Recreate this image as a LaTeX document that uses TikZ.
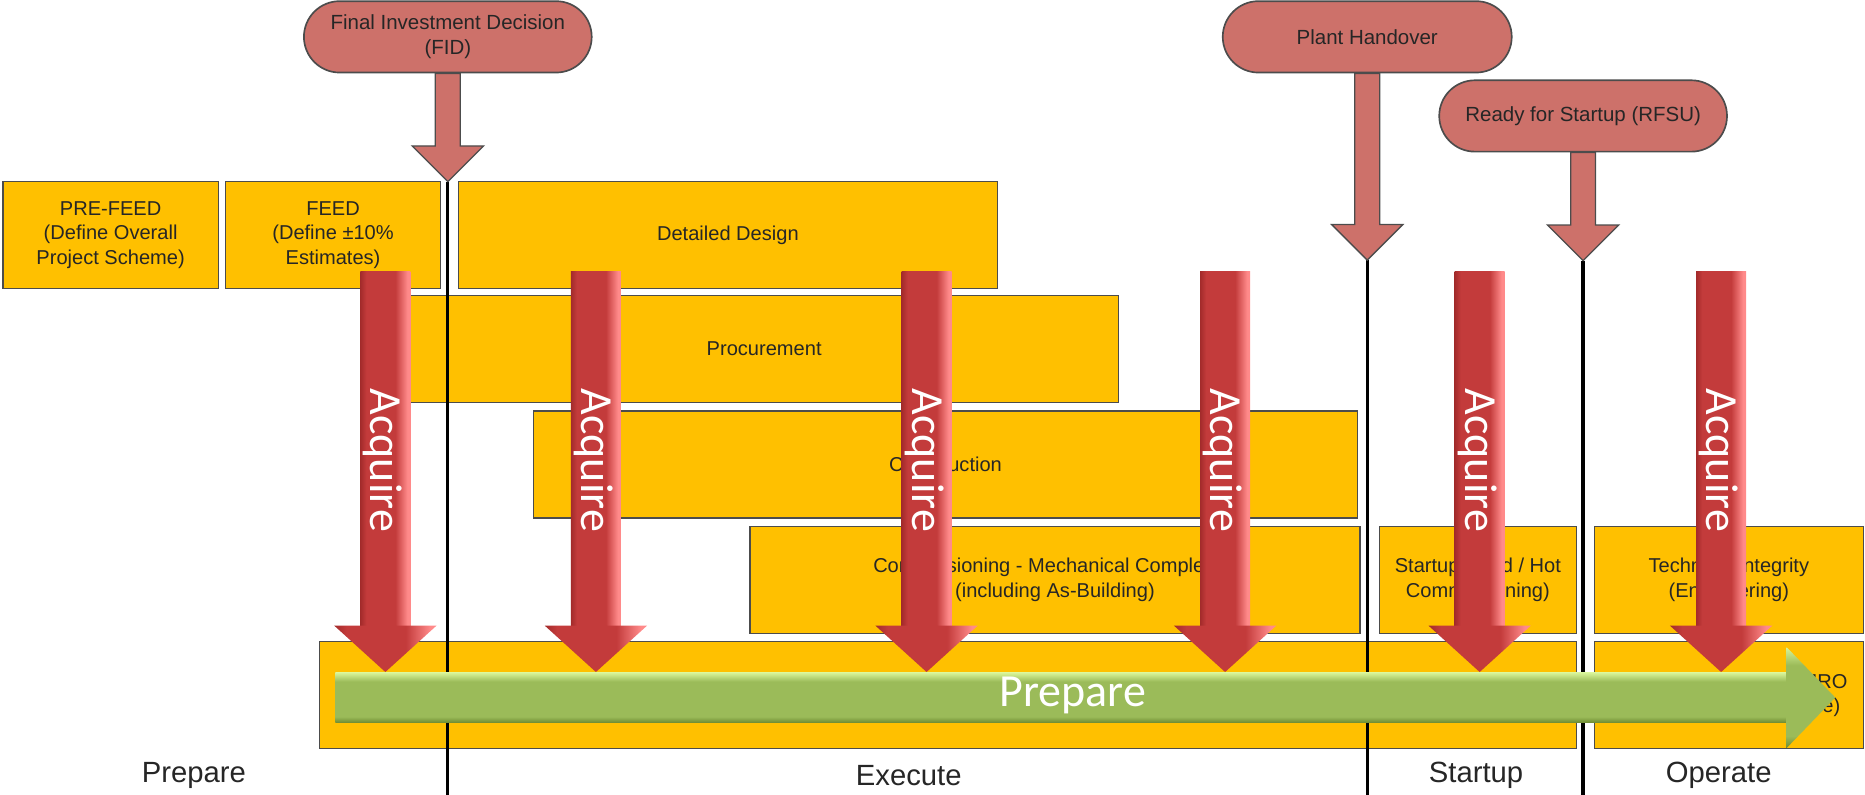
\documentclass[tikz,border=0pt]{standalone}
\usepackage{fontspec}
\setmainfont{Liberation Sans}
\newfontfamily\calfont{Carlito}
\usetikzlibrary{calc,positioning}
\definecolor{boxyellow}{HTML}{FFC000}
\definecolor{pillred}{HTML}{CD716A}
\definecolor{acqdark}{HTML}{A32B2B}
\definecolor{acqred}{HTML}{C33B3B}
\definecolor{acqlight}{HTML}{FF8A8A}
\definecolor{prepdark}{HTML}{6E8C32}
\definecolor{prepgreen}{HTML}{9BBB59}
\definecolor{preplight}{HTML}{D9F59A}
\pgfdeclarehorizontalshading{acqshade}{100bp}{color(0bp)=(acqdark); color(25bp)=(acqdark); color(31bp)=(acqred); color(60bp)=(acqred); color(72bp)=(acqlight); color(100bp)=(acqlight)}
\pgfdeclareverticalshading{prepshade}{100bp}{color(0bp)=(prepdark); color(25bp)=(prepdark); color(31bp)=(prepgreen); color(66bp)=(prepgreen); color(75bp)=(preplight); color(100bp)=(preplight)}

\begin{document}
\begin{tikzpicture}[x=0.02cm,y=-0.02cm,
  phasebox/.style={draw=black!70,line width=0.6pt,fill=boxyellow,anchor=north west,minimum height=1.8cm,inner sep=0pt,align=center,text=black!85,font=\fontsize{9.6}{11.7}\selectfont},
  pill/.style={draw=black!70,line width=0.8pt,fill=pillred,rounded corners=0.6cm,minimum height=1.2cm,align=center,text=black!85,font=\fontsize{9.8}{11.7}\selectfont},
  milestone/.style={draw=black!70,line width=0.6pt,fill=pillred},
  phaseline/.style={line width=1.6pt},
  phaselabel/.style={text=black!85,font=\fontsize{14}{16}\selectfont},
  arrowtext/.style={text=white,font=\calfont\fontsize{22}{24}\selectfont}]
\useasboundingbox (0,0) rectangle (1568,668);
\coordinate (base) at (0,668);
%% phase boxes
\node[phasebox,minimum width=3.62cm] (prefeed) at (2,152) {PRE-FEED\\(Define Overall\\Project Scheme)};
\node[phasebox,minimum width=3.62cm] (feed) at (189,152) {FEED\\(Define \textpm10\%\\Estimates)};
\node[phasebox,minimum width=9.06cm] (design) at (385,152) {Detailed Design};
\node[phasebox,minimum width=11.92cm] (procure) at (344,248) {Procurement};
\node[phasebox,minimum width=13.86cm] (construct) at (448,345) {Construction};
\node[phasebox,minimum width=10.26cm] (commission) at (630,442) {Commissioning - Mechanical Completion\\(including As-Building)};
\node[phasebox,minimum width=3.32cm] (startup) at (1159,442) {Startup (Cold / Hot\\Commissioning)};
\node[phasebox,minimum width=4.52cm] (integrity) at (1340,442) {Technical Integrity\\(Engineering)};
\node[phasebox,minimum width=21.14cm] (execbar) at (268,539) {};
\node[phasebox,minimum width=4.52cm] (operbar) at (1340,539) {Operate \& Maintain - MRO\\(Operations and Service)};
%% milestones
\node[pill,minimum width=4.84cm] (fid) at (376.5,31) {Final Investment Decision\\(FID)};
\node[pill,minimum width=4.86cm] (handover) at (1149.5,31) {Plant Handover};
\node[pill,minimum width=4.84cm] (rfsu) at (1331,97.5) {Ready for Startup (RFSU)};
\foreach \n/\l in {fid/61,handover/127,rfsu/61}{
  \draw[phaseline] ($(\n.south)+(0,\l)+(0,30)$) -- (\n.south |- base);
  \filldraw[milestone] ($(\n.south)+(-10.5,0)$) -- ++(0,\l) -- ++(-19.5,0) -- ++(30,30) -- ++(30,-30) -- ++(-19.5,0) -- ++(0,-\l) -- cycle;
}
%% acquire arrows
\foreach \cx [count=\i] in {324,501,779,1030,1244,1447}{
  \shade[shading=acqshade] (\cx-21,228) rectangle (\cx+21,527);
  \shade[shading=acqshade] (\cx-43,526) -- (\cx+43,526) -- (\cx,565) -- cycle;
  \node[arrowtext,rotate=-90] (acq\i) at (\cx-2,387) {Acquire};
}
%% prepare arrow
\shade[shading=prepshade] (282,565.5) rectangle (1503,607.5);
\shade[shading=prepshade] (1502,544) -- (1543,586.5) -- (1502,629) -- cycle;
\node[arrowtext] (prepare) at (902,585) {Prepare};
%% phase names
\node[phaselabel] (lprep) at (163,652) {Prepare};
\node[phaselabel] (lexec) at (764,652) {Execute};
\node[phaselabel] (lstart) at (1241,652) {Startup};
\node[phaselabel] (loper) at (1445,652) {Operate};
\end{tikzpicture}
\end{document}
